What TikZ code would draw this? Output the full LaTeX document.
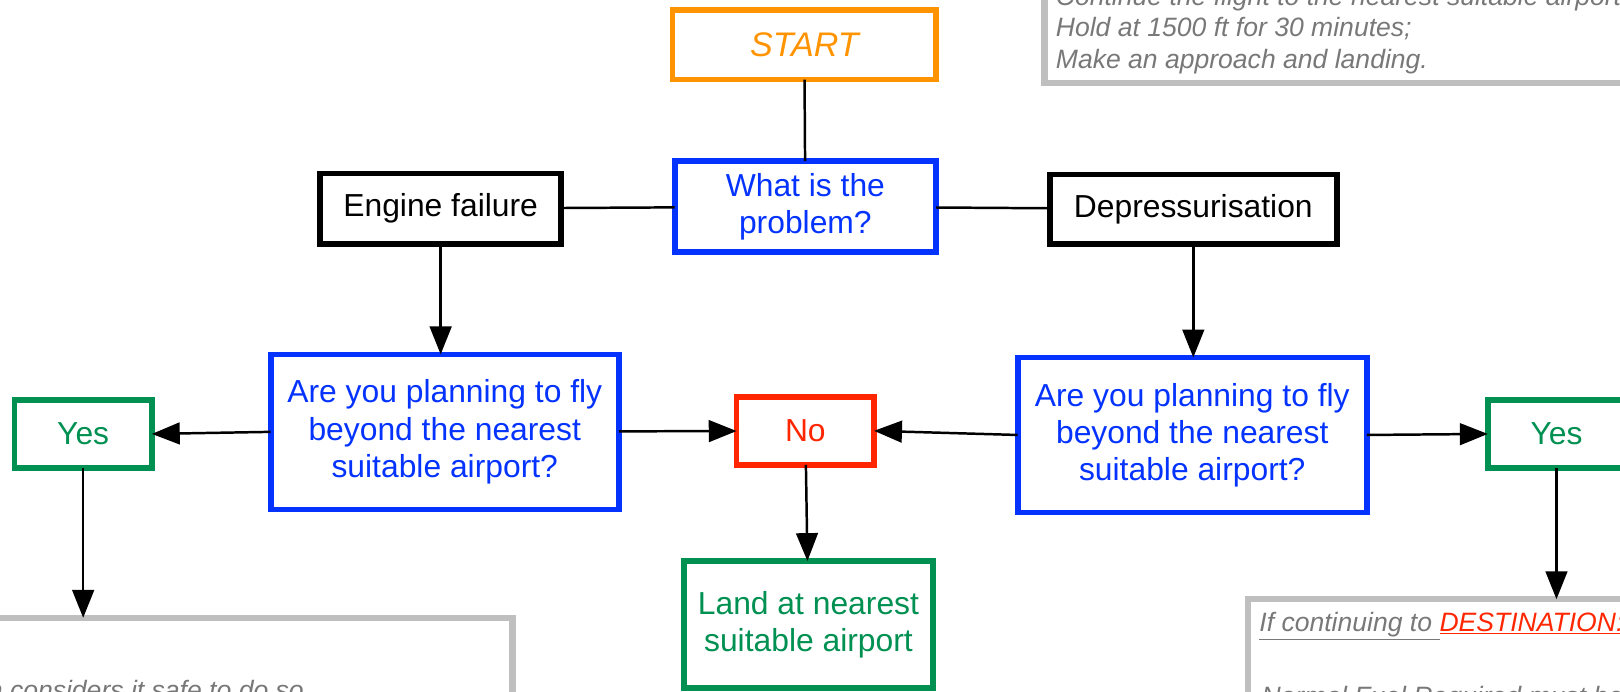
\documentclass[tikz,border=0pt]{standalone}
\usepackage{fontspec}
\setmainfont{Liberation Sans}
\usetikzlibrary{arrows.meta}

\definecolor{startorange}{RGB}{255,147,0}
\definecolor{askblue}{RGB}{4,51,255}
\definecolor{yesgreen}{RGB}{0,144,81}
\definecolor{nored}{RGB}{255,38,0}
\definecolor{notegray}{RGB}{191,191,191}
\definecolor{notetext}{RGB}{120,120,120}

\newcommand{\mainsize}{\fontsize{30.8}{36}\selectfont}
\newcommand{\notesize}{\fontsize{25.7}{30.5}\selectfont\itshape}

\begin{document}
\begin{tikzpicture}
    [x=1pt,y=-1pt,
     every node/.style={inner sep=0pt, outer sep=0pt, font=\mainsize},
     box/.style={draw, line width=5.5pt, align=center, minimum width=#1},
     box/.default=133pt,
     note/.style={draw=notegray, line width=6pt},
     notetxt/.style={text=notetext, font=\notesize, anchor=base west},
     link/.style={line width=2.4pt},
     arr/.style={link, -{Triangle[length=27pt,width=21pt]}}]
    \useasboundingbox (0,0) rectangle (1568,669);
    \clip (0,0) rectangle (1568,669);
    % grey notes
    \node[note, minimum width=789pt, minimum height=280pt] (notetop) at (1405.5,-60) {};
    \node[note, minimum width=696pt, minimum height=302pt] (noteleft) at (148,749) {};
    \node[note, minimum width=692pt, minimum height=320pt] (noteright) at (1554,740) {};
    \node[notetxt] (hold1) at (1022,5) {Continue the flight to the nearest suitable airport};
    \node[notetxt] (hold2) at (1022,35.5) {Hold at 1500 ft for 30 minutes;};
    \node[notetxt] (hold3) at (1022,66) {Make an approach and landing.};
    \node[notetxt, anchor=base east] (safe) at (294,677) {captain considers it safe to do so};
    \node[notetxt] (dest) at (1219,611.5) {\underline{If continuing to\ }\textcolor{nored}{\underline{DESTINATION:}}};
    \node[notetxt] (fuel) at (1221,683) {Normal Fuel Required must be};
    % boxes
    \node[box=255pt, draw=startorange, text=startorange, minimum height=67pt, font=\fontsize{33}{38}\selectfont\itshape] (start) at (778.5,43.5) {START};
    \node[box=253pt, draw=askblue, text=askblue, minimum height=88pt] (problem) at (779.5,200) {What is the\\problem?};
    \node[box=233pt, minimum height=68pt] (engine) at (426.5,202) {Engine failure};
    \node[box=278pt, minimum height=67pt] (depress) at (1155,202.5) {Depressurisation};
    \node[box=337pt, draw=askblue, text=askblue, minimum height=150pt] (askleft) at (430.5,418) {Are you planning to fly\\beyond the nearest\\suitable airport?};
    \node[box=338pt, draw=askblue, text=askblue, minimum height=150pt] (askright) at (1154,421) {Are you planning to fly\\beyond the nearest\\suitable airport?};
    \node[box, draw=nored, text=nored, minimum height=66pt] (no) at (779.5,417) {No};
    \node[box, draw=yesgreen, text=yesgreen, minimum height=66pt] (yesleft) at (80.5,420) {Yes};
    \node[box, draw=yesgreen, text=yesgreen, minimum height=66pt] (yesright) at (1506.5,420) {Yes};
    \node[box=241pt, draw=yesgreen, text=yesgreen, minimum height=123pt] (land) at (782.5,604.5) {Land at nearest\\suitable airport};
    % connectors
    \draw[link] (start) -- (problem);
    \draw[link] (engine) -- (problem);
    \draw[link] (problem) -- (depress);
    \draw[arr] (engine.south) -- (engine.south |- askleft.north);
    \draw[arr] (depress.south) -- (depress.south |- askright.north);
    \draw[arr] (askleft) -- (no);
    \draw[arr] (askright.west) -- (no.east);
    \draw[arr] (askleft.west) -- (yesleft.east);
    \draw[arr] (askright.east) -- (yesright.west);
    \draw[arr] (no) -- (land);
    \draw[arr] (yesleft.south) -- (yesleft.south |- noteleft.north);
    \draw[arr] (yesright.south) -- (yesright.south |- noteright.north);
\end{tikzpicture}
\end{document}
